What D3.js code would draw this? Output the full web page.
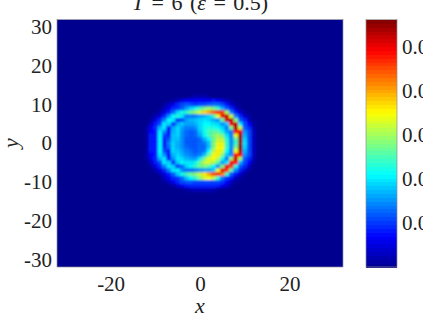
<!DOCTYPE html>
<html>
<head>
<meta charset="utf-8">
<script src="https://cdn.jsdelivr.net/npm/d3@7"></script>
<style>
html, body { margin: 0; padding: 0; background: #fff; overflow: hidden; }
text { font-family: "Liberation Serif", serif; fill: #222; }
</style>
</head>
<body>
<svg id="chart"></svg>
<script>
// Density, in units of 0.001, one row per y, one column per x
const xCells = d3.range(-12, 13);
const yCells = d3.range(12, -13, -1);
const density = [
  [0,0,0,0,0,0,0,0,0,0,1,2,2,2,1,0,0,0,0,0,0,0,0,0,0],
  [0,0,0,0,0,0,1,3,5,7,7,7,7,7,7,8,7,5,3,1,0,0,0,0,0],
  [0,0,0,0,1,3,6,9,11,12,11,10,11,11,12,13,13,11,8,4,1,0,0,0,0],
  [0,0,0,0,3,6,9,10,12,16,19,22,25,28,30,28,24,17,12,9,4,1,0,0,0],
  [0,0,0,2,5,8,13,19,22,24,27,30,33,37,40,44,47,46,30,14,8,4,1,0,0],
  [0,0,2,5,9,15,21,23,20,14,14,14,16,17,19,24,34,50,52,32,14,9,4,1,0],
  [0,1,5,9,14,21,20,10,11,16,17,18,19,20,19,17,15,26,52,53,28,12,9,3,0],
  [0,3,8,11,20,19,9,16,18,16,16,17,19,21,21,20,19,15,18,50,53,20,11,7,1],
  [1,6,9,17,20,8,16,19,16,14,14,15,19,22,23,23,21,19,14,28,54,32,12,9,2],
  [1,7,8,20,15,8,17,19,15,13,12,13,18,22,25,26,26,22,16,14,48,50,15,11,3],
  [1,8,8,21,11,9,18,19,15,13,12,13,16,21,25,28,30,28,20,14,34,54,17,11,3],
  [1,8,8,21,9,12,18,18,15,12,12,12,13,17,21,27,32,32,23,15,26,55,19,11,3],
  [1,8,8,21,8,14,19,17,15,12,12,12,13,14,18,28,34,34,24,15,24,55,20,11,3],
  [1,8,8,21,9,13,19,17,15,13,12,12,13,13,18,28,35,35,24,15,28,56,19,11,3],
  [1,8,8,21,11,9,19,18,16,14,13,12,13,14,21,31,36,33,21,14,34,54,17,11,3],
  [1,7,8,20,15,8,17,19,17,15,14,13,14,18,27,34,36,29,18,15,48,50,15,11,3],
  [1,6,9,17,20,8,15,20,19,17,16,16,20,28,33,35,31,22,14,30,52,30,12,9,2],
  [0,3,8,11,20,19,9,18,21,20,20,22,27,32,33,31,26,16,20,50,48,17,11,7,1],
  [0,1,5,9,14,20,19,10,13,19,21,24,27,28,26,21,15,28,50,46,22,12,9,3,0],
  [0,0,2,5,9,14,20,21,15,13,13,14,15,16,16,18,34,50,46,26,14,9,4,1,0],
  [0,0,0,2,5,8,12,18,22,25,27,29,32,36,40,45,48,42,24,12,8,4,1,0,0],
  [0,0,0,0,3,6,9,10,13,18,21,24,29,33,35,32,23,14,10,8,3,1,0,0,0],
  [0,0,0,0,1,3,6,9,11,12,12,11,11,11,11,11,11,10,7,3,1,0,0,0,0],
  [0,0,0,0,0,0,1,4,6,8,9,9,9,9,9,9,8,6,4,1,0,0,0,0,0],
  [0,0,0,0,0,0,0,0,0,1,2,3,3,3,3,2,1,0,0,0,0,0,0,0,0]
];
const xTicks = [-20, 0, 20];
const yTicks = [-30, -20, -10, 0, 10, 20, 30];
const barTicks = [0.01, 0.02, 0.03, 0.04, 0.05];
const jetStops = ["#00008f", "#0000ff", "#00ffff", "#ffff00", "#ff0000", "#800000"];
const jetAt = [0, 0.125, 0.375, 0.625, 0.875, 1];
const barMax = 0.0562;

const svg = d3.select("#chart").attr("width", 423).attr("height", 317);

const x = d3.scaleLinear().domain([-32, 32]).range([57, 343]);
const y = d3.scaleLinear().domain([-32, 32]).range([267, 19.5]);
const barY = d3.scaleLinear().domain([0, barMax]).range([267, 19.5]);
const color = d3.scaleLinear().domain(jetAt.map(d => d * barMax)).range(jetStops).clamp(true);

svg.append("defs").append("clipPath").attr("id", "plot-clip")
    .append("rect")
    .attr("x", x(-32)).attr("y", y(32))
    .attr("width", x(32) - x(-32)).attr("height", y(-32) - y(32));
const blur = svg.select("defs").append("filter").attr("id", "soft")
    .attr("x", "-10%").attr("y", "-10%").attr("width", "120%").attr("height", "120%");
blur.append("feGaussianBlur").attr("stdDeviation", 1.0);

// Heat map
const plot = svg.append("g").attr("clip-path", "url(#plot-clip)");
plot.append("rect")
    .attr("x", x(-32)).attr("y", y(32))
    .attr("width", x(32) - x(-32)).attr("height", y(-32) - y(32))
    .attr("fill", color(0));

const cells = density.flatMap((row, i) => row.map((v, j) => ({ cx: xCells[j], cy: yCells[i], v: v / 1000 })));
plot.append("g")
    .attr("filter", "url(#soft)")
    .selectAll("rect")
    .data(cells)
    .join("rect")
    .attr("x", d => x(d.cx - 0.5))
    .attr("y", d => y(d.cy + 0.5))
    .attr("width", x(1) - x(0) + 0.3)
    .attr("height", y(0) - y(1) + 0.3)
    .attr("fill", d => color(d.v));

svg.append("rect")
    .attr("x", x(-32)).attr("y", y(32))
    .attr("width", x(32) - x(-32)).attr("height", y(-32) - y(32))
    .attr("fill", "none").attr("stroke", "#8f8f9f").attr("stroke-width", 0.7);

// Axes
const xAxis = svg.append("g")
    .attr("transform", `translate(0,${y(-32)})`)
    .call(d3.axisBottom(x).tickValues(xTicks).tickFormat(d => String(d)).tickSize(0).tickPadding(9));
const yAxis = svg.append("g")
    .attr("transform", `translate(${x(-32)},0)`)
    .call(d3.axisLeft(y).tickValues(yTicks).tickFormat(d => String(d)).tickSize(0).tickPadding(5));
[xAxis, yAxis].forEach(a => {
  a.select(".domain").remove();
  a.selectAll("text").attr("font-size", 21).attr("font-family", null);
});

svg.append("text").attr("x", 200).attr("y", 313)
    .attr("text-anchor", "middle").attr("font-size", 22).attr("font-style", "italic").text("x");
svg.append("text").attr("transform", "translate(18,143) rotate(-90)")
    .attr("text-anchor", "middle").attr("font-size", 22).attr("font-style", "italic").text("y");

// Title, cut by the top of the picture like in the reference
const title = svg.append("text").attr("x", 200).attr("y", 10)
    .attr("text-anchor", "middle").attr("font-size", 22).attr("word-spacing", 2);
title.append("tspan").attr("font-style", "italic").text("T");
title.append("tspan").text(" = 6 (");
title.append("tspan").attr("font-style", "italic").text("ε");
title.append("tspan").text(" = 0.5)");

// Colour bar
const barLevels = d3.range(64).map(i => i / 64 * barMax);
svg.append("g").attr("shape-rendering", "crispEdges").selectAll("rect")
    .data(barLevels)
    .join("rect")
    .attr("x", 366)
    .attr("y", d => barY(d + barMax / 64))
    .attr("width", 31)
    .attr("height", (barY(0) - barY(barMax)) / 64 + 0.5)
    .attr("fill", d => color(d + barMax / 128));
svg.append("rect")
    .attr("x", 366).attr("y", barY(barMax))
    .attr("width", 31).attr("height", barY(0) - barY(barMax))
    .attr("fill", "none").attr("stroke", "#8f8f8f").attr("stroke-width", 0.7);

const barAxis = svg.append("g")
    .attr("transform", "translate(397,0)")
    .call(d3.axisRight(barY).tickValues(barTicks).tickFormat(d3.format(".2f")).tickSize(0).tickPadding(5));
barAxis.select(".domain").remove();
barAxis.selectAll("text").attr("font-size", 21).attr("font-family", null);
</script>
</body>
</html>
